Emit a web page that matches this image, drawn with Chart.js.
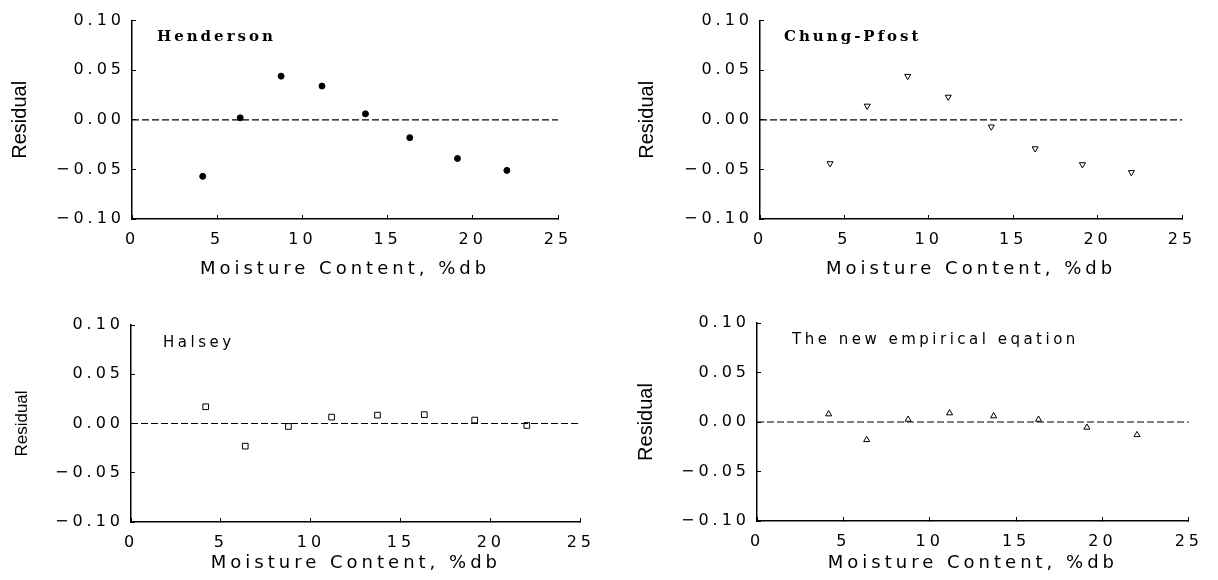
<!DOCTYPE html>
<html>
<head>
<meta charset="utf-8">
<script src="https://cdn.jsdelivr.net/npm/chart.js@4"></script>
<style>
  body { margin: 0; background: #fff; }
  .panel { position: absolute; }
</style>
</head>
<body>
<canvas id="c1" class="panel" width="610" height="290" style="left:0;top:0"></canvas>
<canvas id="c2" class="panel" width="608" height="290" style="left:610px;top:0"></canvas>
<canvas id="c3" class="panel" width="610" height="290" style="left:0;top:290px"></canvas>
<canvas id="c4" class="panel" width="608" height="290" style="left:610px;top:290px"></canvas>
<script>
// residual plots, moisture content (%db) vs residual

const moisture = [4.15, 6.35, 8.75, 11.15, 13.7, 16.3, 19.1, 22.0];
const henderson = [-0.057, 0.002, 0.044, 0.034, 0.006, -0.018, -0.039, -0.051];
const chungPfost = [-0.044, 0.014, 0.044, 0.023, -0.007, -0.029, -0.045, -0.053];
const halsey = [0.017, -0.023, -0.003, 0.0065, 0.0085, 0.009, 0.0035, -0.002];
const newEq = [0.008, -0.018, 0.0025, 0.009, 0.006, 0.0025, -0.0055, -0.013];

const xTicks = [0, 5, 10, 15, 20, 25];
const yTicks = [-0.10, -0.05, 0.00, 0.05, 0.10];
const zeroLine = [0, 25];

function pts(ys) {
    return moisture.map(function (x, i) { return { x: x, y: ys[i] }; });
}

// wide letter spacing of the old plotting software
const spacing = {
    id: 'spacing',
    beforeLayout(chart) { chart.ctx.letterSpacing = '4px'; },
    beforeDraw(chart) { chart.ctx.letterSpacing = '4px'; }
};

const labels = {
    id: 'labels',
    afterDraw(chart, args, o) {
        const ctx = chart.ctx, a = chart.chartArea;
        ctx.save();
        ctx.fillStyle = '#000';
        ctx.textBaseline = 'middle';
        ctx.textAlign = 'left';
        ctx.font = o.font;
        ctx.letterSpacing = o.spacing;
        ctx.fillText(o.text, a.left + o.dx, a.top + o.dy);
        // y title
        ctx.letterSpacing = '0px';
        ctx.font = o.yFont;
        ctx.textAlign = 'center';
        ctx.translate(o.yTitleX, (a.top + a.bottom) / 2);
        ctx.rotate(-Math.PI / 2);
        ctx.fillText('Residual', 0, 0);
        ctx.restore();
    }
};

function makeChart(id, p) {
    const ctx = document.getElementById(id).getContext('2d');
    return new Chart(ctx, {
        type: 'scatter',
        data: {
            datasets: [
                {
                    data: zeroLine.map(function (x) { return { x: x, y: 0 }; }),
                    showLine: true,
                    borderColor: '#000',
                    borderWidth: 1.2,
                    borderDash: [7, 3],
                    pointRadius: 0
                },
                {
                    data: pts(p.values),
                    pointStyle: p.style,
                    rotation: p.rotation || 0,
                    radius: p.radius,
                    backgroundColor: p.fill,
                    borderColor: '#000',
                    borderWidth: 1
                }
            ]
        },
        options: {
            responsive: false,
            animation: false,
            layout: { padding: p.padding },
            plugins: {
                legend: { display: false },
                tooltip: { enabled: false },
                labels: p.label
            },
            scales: {
                x: {
                    type: 'linear', min: 0, max: 25,
                    afterFit: function (s) { s.height = p.xHeight; },
                    afterBuildTicks: function (s) { s.ticks = xTicks.map(function (v) { return { value: v }; }); },
                    grid: { display: true, drawOnChartArea: false, tickLength: -4, color: '#000', lineWidth: 1 },
                    border: { color: '#000', width: 1.5 },
                    ticks: { color: '#000', padding: 15, maxRotation: 0, font: { family: 'DejaVu Sans', size: 16 } },
                    title: {
                        display: true, text: 'Moisture Content, %db', color: '#000',
                        font: { family: 'DejaVu Sans', size: 18 }, padding: { top: 0, bottom: p.titlePad }
                    }
                },
                y: {
                    type: 'linear', min: -0.1, max: 0.1,
                    afterFit: function (s) { s.width = p.yWidth; },
                    afterBuildTicks: function (s) { s.ticks = yTicks.map(function (v) { return { value: v }; }); },
                    grid: { display: true, drawOnChartArea: false, tickLength: -4, color: '#000', lineWidth: 1 },
                    border: { color: '#000', width: 1.5 },
                    ticks: {
                        color: '#000', padding: 11, font: { family: 'DejaVu Sans', size: 16 },
                        callback: function (v) {
                            if (Math.abs(v) < 1e-9) v = 0;
                            return v.toFixed(2).replace('-', '\u2212');
                        }
                    }
                }
            }
        },
        plugins: [spacing, labels]
    });
}

makeChart('c1', {
    values: henderson, style: 'circle', radius: 3, fill: '#000',
    padding: { left: 4, top: 20, right: 52, bottom: 4 }, yWidth: 128, xHeight: 67, titlePad: 6,
    label: { text: 'Henderson', font: 'bold 15px "DejaVu Serif"', spacing: '3px', dx: 25, dy: 17, yFont: '20px "Liberation Sans"', yTitleX: 20 }
});
makeChart('c2', {
    values: chungPfost, style: 'triangle', rotation: 180, radius: 3.5, fill: '#fff',
    padding: { left: 4, top: 20, right: 36, bottom: 4 }, yWidth: 146, xHeight: 67, titlePad: 6,
    label: { text: 'Chung-Pfost', font: 'bold 15px "DejaVu Serif"', spacing: '3px', dx: 24, dy: 17, yFont: '20px "Liberation Sans"', yTitleX: 37 }
});
makeChart('c3', {
    values: halsey, style: 'rect', radius: 4, fill: '#fff',
    padding: { left: 4, top: 35, right: 28, bottom: 2 }, yWidth: 127, xHeight: 56, titlePad: 4,
    label: { text: 'Halsey', font: '15px "DejaVu Sans"', spacing: '3.5px', dx: 32, dy: 18, yFont: '17px "Liberation Sans"', yTitleX: 22 }
});
makeChart('c4', {
    values: newEq, style: 'triangle', radius: 3.5, fill: '#fff',
    padding: { left: 4, top: 33, right: 16, bottom: 2 }, yWidth: 143, xHeight: 57, titlePad: 4,
    label: { text: 'The new empirical eqation', font: '15px "DejaVu Sans"', spacing: '3.5px', dx: 35, dy: 17, yFont: '20px "Liberation Sans"', yTitleX: 36 }
});
</script>
</body>
</html>
